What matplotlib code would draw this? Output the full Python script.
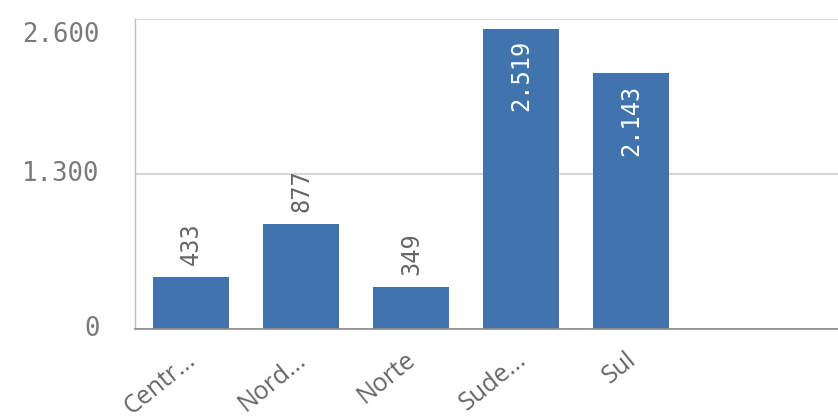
import matplotlib
matplotlib.use("Agg")
import matplotlib.pyplot as plt
from matplotlib.transforms import ScaledTranslation

categories = ["Centr...", "Nord...", "Norte", "Sude...", "Sul"]
values = [433, 877, 349, 2519, 2143]
y_ticks = [0, 1300, 2600]
y_tick_labels = ["0", "1.300", "2.600"]
value_labels = ["433", "877", "349", "2.519", "2.143"]

BAR = "#4174AD"
TXT = "#666666"
AXTXT = "#7a7a7a"
MONO = "DejaVu Sans Mono"

fig = plt.figure(figsize=(8.38, 4.19), dpi=100)
ax = fig.add_axes([0.161, 0.215, 0.839, 0.74])

x = list(range(len(categories)))
ax.bar(x, values, width=0.69, color=BAR, zorder=3)

ax.set_xlim(-0.51, 5.88)
ax.set_ylim(0, 2600)

# y axis: gridlines plus labels drawn beside the axis
ax.set_yticks(y_ticks)
ax.set_yticklabels([])
ax.yaxis.grid(True, color="#cfcfcf", linewidth=1.2, zorder=0)
ax.tick_params(axis="y", length=0)
ytrans = ax.get_yaxis_transform()
for val, lab in zip(y_ticks, y_tick_labels):
    tr = ytrans + ScaledTranslation(-0.35, 0, fig.dpi_scale_trans)
    if val == y_ticks[-1]:
        tr = tr + ScaledTranslation(0, -0.16, fig.dpi_scale_trans)
    ax.text(0, val, lab, transform=tr, ha="right", va="center",
            family=MONO, fontsize=18.5, color=AXTXT)

ax.set_xticks(x)
ax.set_xticklabels(categories, rotation=39, ha="right", va="top",
                   rotation_mode="anchor", fontsize=18, color=TXT,
                   family="Open Sans")
ax.tick_params(axis="x", length=0, pad=13)
for t in ax.get_xticklabels():
    t.set_transform(t.get_transform() + ScaledTranslation(-0.06, 0, fig.dpi_scale_trans))

for s in ["top", "right"]:
    ax.spines[s].set_visible(False)
ax.spines["left"].set_color("#bdbdbd")
ax.spines["left"].set_linewidth(1.0)
ax.spines["bottom"].set_color("#8c8c8c")
ax.spines["bottom"].set_linewidth(1.2)
ax.spines["bottom"].set_zorder(4)

# value labels: outside (above) short bars, inside (white) tall bars
for xi, v, lab in zip(x, values, value_labels):
    if v > 1500:
        ax.annotate(lab, (xi, v), xytext=(0, -8), textcoords="offset points",
                    rotation=90, ha="center", va="top", color="white",
                    family=MONO, fontsize=17, zorder=5)
    else:
        ax.annotate(lab, (xi, v), xytext=(0, 9), textcoords="offset points",
                    rotation=90, ha="center", va="bottom", color=TXT,
                    family=MONO, fontsize=17, zorder=5)

fig.savefig("out.png", dpi=100, facecolor="white")
